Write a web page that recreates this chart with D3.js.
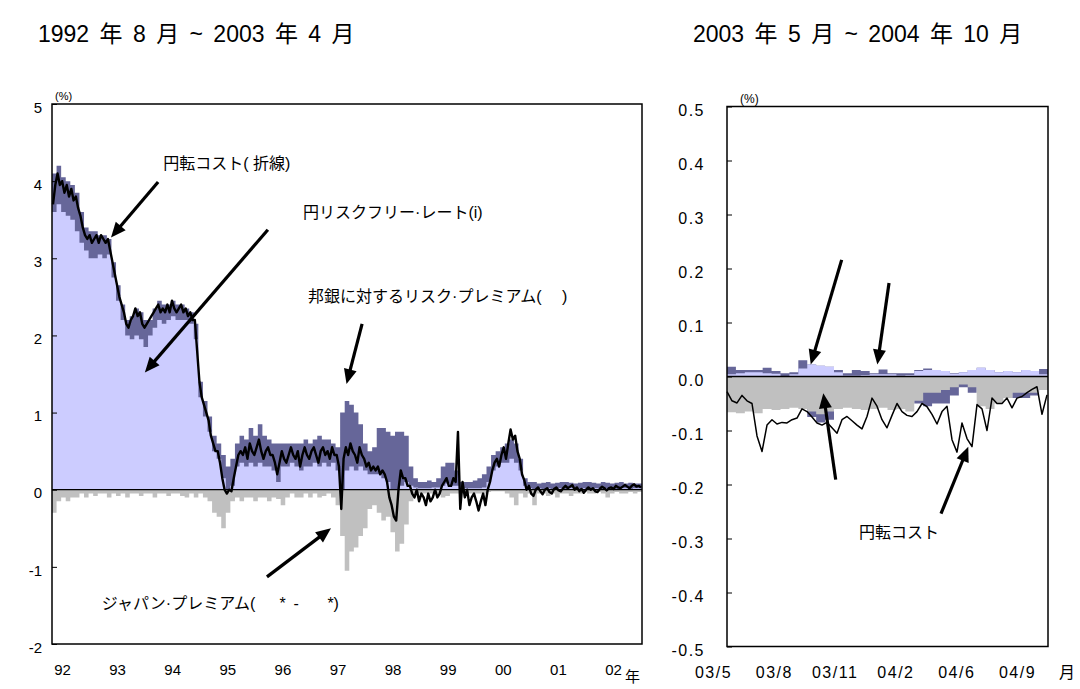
<!DOCTYPE html>
<html>
<head>
<meta charset="utf-8">
<script src="https://cdnjs.cloudflare.com/ajax/libs/d3/7.8.5/d3.min.js"></script>
<style>
  body { margin: 0; background: #fff; }
  svg text { font-family: 'Liberation Sans', Arial, 'Noto Sans CJK JP', sans-serif; fill: #000; white-space: pre; }
</style>
</head>
<body>
<svg id="chart" width="1080" height="689"></svg>
<script>
// ---- left panel: 1992/8 .. 2003/4 ----
// yen conversion cost, half-monthly
const yenCost = [
    3.7, 3.95, 4.1, 3.95, 4.0, 3.85, 3.95, 3.8, 3.9, 3.75,
    3.8, 3.65, 3.55, 3.4, 3.3, 3.25, 3.3, 3.2, 3.25, 3.3,
    3.2, 3.3, 3.25, 3.2, 3.25, 3.1, 2.95, 2.8, 2.65, 2.5,
    2.4, 2.3, 2.15, 2.1, 2.2, 2.25, 2.35, 2.25, 2.3, 2.15,
    2.1, 2.15, 2.2, 2.25, 2.3, 2.35, 2.4, 2.3, 2.35, 2.3,
    2.4, 2.3, 2.45, 2.35, 2.3, 2.35, 2.4, 2.3, 2.35, 2.25,
    2.3, 2.2, 2.2, 1.8, 1.4, 1.2, 1.1, 1.0, 0.9, 0.7,
    0.6, 0.5, 0.5, 0.35, 0.15, 0.0, -0.05, 0.0, -0.02, 0.15,
    0.3, 0.45, 0.5, 0.45, 0.55, 0.4, 0.6, 0.5, 0.45, 0.55,
    0.65, 0.5, 0.4, 0.5, 0.55, 0.45, 0.45, 0.35, 0.2, 0.35,
    0.5, 0.4, 0.35, 0.45, 0.55, 0.45, 0.4, 0.5, 0.3, 0.45,
    0.55, 0.45, 0.4, 0.5, 0.55, 0.45, 0.35, 0.5, 0.55, 0.45,
    0.5, 0.4, 0.55, 0.45, 0.45, 0.3, -0.25, 0.4, 0.55, 0.45,
    0.6, 0.5, 0.45, 0.35, 0.55, 0.45, 0.4, 0.3, 0.35, 0.25,
    0.3, 0.25, 0.3, 0.2, 0.25, 0.2, 0.1, -0.1, -0.2, -0.35,
    -0.4, 0.0, 0.25, 0.15, 0.15, 0.05, 0.05, -0.05, -0.1, 0.0,
    -0.15, -0.05, -0.1, -0.2, -0.05, -0.15, -0.1, 0.0, -0.1, -0.05,
    0.05, 0.1, 0.15, 0.05, 0.05, 0.15, 0.1, 0.75, -0.25, 0.1,
    -0.1, 0.0, -0.2, -0.1, -0.05, -0.15, -0.27, -0.15, -0.05, -0.2,
    0.0, 0.1, 0.25, 0.35, 0.4, 0.3, 0.45, 0.55, 0.4, 0.6,
    0.78, 0.65, 0.7, 0.5, 0.4, 0.2, 0.12, 0.0, 0.05, -0.05,
    -0.08, 0.0, 0.03, -0.02, -0.06, 0.0, 0.02, -0.03, -0.05, 0.01,
    0.03, -0.01, -0.02, 0.02, 0.05, 0.02, 0.04, 0.06, 0.0, 0.03,
    -0.02, 0.01, -0.04, 0.0, 0.03, 0.0, 0.02, -0.02, -0.03, 0.01,
    0.04, 0.02, -0.01, 0.02, 0.03, 0.01, 0.05, 0.03, 0.02, 0.04,
    0.06, 0.04, 0.02, 0.05, 0.07, 0.04, 0.05, 0.03
];
// monthly
const riskFree = [
    3.6, 3.7, 3.6, 3.55, 3.5, 3.35, 3.2, 3.1, 3.0, 3.0,
    3.05, 3.0, 3.05, 2.75, 2.45, 2.2, 2.0, 1.95, 2.0, 1.95,
    1.85, 2.0, 2.1, 2.2, 2.15, 2.2, 2.25, 2.2, 2.2, 2.2,
    2.15, 1.95, 1.2, 0.95, 0.75, 0.5, 0.4, 0.15, 0.0, 0.05,
    0.3, 0.35, 0.3, 0.35, 0.3, 0.35, 0.3, 0.3, 0.25, 0.1,
    0.3, 0.3, 0.35, 0.3, 0.25, 0.3, 0.3, 0.35, 0.3, 0.35,
    0.3, 0.35, 0.25, 0.0, 0.25, 0.3, 0.25, 0.3, 0.25, 0.2,
    0.2, 0.2, 0.15, 0.1, 0.0, 0.0, 0.05, 0.1, 0.05, 0.03,
    0.02, 0.02, 0.02, 0.03, 0.03, 0.05, 0.08, 0.05, 0.05, 0.03,
    0.02, 0.02, 0.02, 0.02, 0.03, 0.1, 0.25, 0.3, 0.35, 0.35,
    0.4, 0.35, 0.25, 0.05, 0.02, 0.01, 0.02, 0.01, 0.02, 0.01,
    0.02, 0.02, 0.01, 0.02, 0.02, 0.01, 0.02, 0.01, 0.02, 0.02,
    0.01, 0.02, 0.02, 0.01, 0.02, 0.02, 0.01, 0.02, 0.02
];
// risk-free + bank risk premium (top of the dark band)
const withPremium = [
    4.1, 4.2, 4.05, 4.0, 3.95, 3.85, 3.6, 3.4, 3.35, 3.35,
    3.3, 3.3, 3.25, 2.95, 2.65, 2.4, 2.2, 2.25, 2.35, 2.3,
    2.2, 2.2, 2.35, 2.45, 2.4, 2.4, 2.45, 2.4, 2.4, 2.35,
    2.3, 2.15, 1.4, 1.15, 0.95, 0.7, 0.6, 0.45, 0.3, 0.4,
    0.6, 0.7, 0.65, 0.8, 0.7, 0.85, 0.7, 0.65, 0.6, 0.6,
    0.6, 0.6, 0.6, 0.6, 0.6, 0.65, 0.6, 0.65, 0.7, 0.65,
    0.65, 0.6, 0.55, 1.0, 1.15, 1.1, 1.0, 0.85, 0.6, 0.5,
    0.55, 0.8, 0.8, 0.75, 0.7, 0.75, 0.75, 0.7, 0.3, 0.15,
    0.1, 0.1, 0.12, 0.1, 0.15, 0.3, 0.35, 0.35, 0.25, 0.1,
    0.1, 0.1, 0.12, 0.15, 0.2, 0.3, 0.45, 0.5, 0.55, 0.6,
    0.65, 0.6, 0.4, 0.15, 0.1, 0.1, 0.08, 0.09, 0.1, 0.08,
    0.09, 0.1, 0.1, 0.09, 0.08, 0.09, 0.1, 0.1, 0.09, 0.08,
    0.1, 0.09, 0.08, 0.09, 0.1, 0.08, 0.09, 0.08, 0.08
];
const japanPremium = [
    -0.3, -0.15, -0.1, -0.15, -0.1, -0.1, -0.05, -0.1, -0.05, -0.08,
    -0.05, -0.05, -0.1, -0.05, -0.08, -0.05, -0.1, -0.05, -0.05, -0.08,
    -0.05, -0.05, -0.1, -0.05, -0.05, -0.08, -0.05, -0.05, -0.08, -0.1,
    -0.05, -0.1, -0.05, -0.1, -0.15, -0.3, -0.35, -0.5, -0.3, -0.15,
    -0.1, -0.15, -0.1, -0.1, -0.15, -0.1, -0.1, -0.15, -0.1, -0.12,
    -0.2, -0.1, -0.05, -0.1, -0.1, -0.05, -0.1, -0.05, -0.1, -0.08,
    -0.05, -0.1, -0.2, -0.6, -1.05, -0.8, -0.75, -0.6, -0.5, -0.25,
    -0.2, -0.3, -0.4, -0.35, -0.55, -0.8, -0.7, -0.45, -0.15, -0.05,
    -0.05, -0.05, -0.05, -0.05, -0.05, -0.1, -0.08, -0.05, -0.05, -0.05,
    -0.05, -0.05, -0.05, -0.05, -0.05, -0.03, -0.02, -0.02, -0.02, -0.05,
    -0.1, -0.2, -0.05, -0.1, -0.05, -0.2, -0.05, -0.05, -0.08, -0.05,
    -0.1, -0.05, -0.05, -0.08, -0.05, -0.05, -0.03, -0.05, -0.05, -0.03,
    -0.05, -0.1, -0.05, -0.03, -0.05, -0.05, -0.03, -0.05, -0.03
];
const yearLabels = ['92', '93', '94', '95', '96', '97', '98', '99', '00', '01', '02'];
const leftTicks = [-2, -1, 0, 1, 2, 3, 4, 5];

// ---- right panel: 2003/5 .. 2004/10 ----
// yen conversion cost, roughly every 5 days
const rYenCost = [
    -0.028, -0.045, -0.049, -0.035, -0.045, -0.05, -0.11, -0.139, -0.09, -0.08,
    -0.088, -0.085, -0.086, -0.08, -0.077, -0.06, -0.065, -0.075, -0.086, -0.09,
    -0.085, -0.095, -0.105, -0.08, -0.074, -0.082, -0.09, -0.097, -0.074, -0.04,
    -0.055, -0.08, -0.095, -0.072, -0.05, -0.065, -0.072, -0.074, -0.065, -0.05,
    -0.056, -0.07, -0.088, -0.065, -0.055, -0.117, -0.14, -0.086, -0.115, -0.13,
    -0.052, -0.06, -0.1, -0.04, -0.05, -0.05, -0.04, -0.058, -0.04, -0.037,
    -0.03, -0.024, -0.019, -0.07, -0.034
];
// half-monthly
const rRiskFree = [
    0.004, 0.006, 0.008, 0.008, 0.006, 0.005, 0.0, 0.004, 0.015, 0.022,
    0.02, 0.018, 0.008, 0.002, 0.002, 0.003, 0.004, 0.004, 0.004, 0.002,
    0.003, 0.01, 0.012, 0.012, 0.01, 0.005, 0.008, 0.012, 0.016, 0.012,
    0.008, 0.01, 0.008, 0.012, 0.01, 0.004
];
const rWithPremium = [
    0.018, 0.012, 0.012, 0.012, 0.016, 0.01, 0.006, 0.008, 0.03, 0.022,
    0.02, 0.018, 0.012, 0.006, 0.012, 0.01, 0.006, 0.013, 0.006, 0.006,
    0.006, 0.012, 0.015, 0.012, 0.01, 0.006, 0.008, 0.012, 0.016, 0.012,
    0.008, 0.01, 0.008, 0.012, 0.01, 0.014
];
const rPremiumNeg = [
    0, 0, 0, 0, 0, 0, 0, 0, 0, -0.075,
    -0.085, -0.08, 0, 0, 0, 0, 0, 0, 0, 0,
    0, -0.05, -0.055, -0.05, -0.05, -0.035, -0.02, -0.03, 0, 0,
    0, 0, -0.04, -0.04, -0.035, 0
];
const rJapanPremium = [
    -0.066, -0.068, -0.065, -0.068, -0.06, -0.062, -0.06, -0.058, -0.06, -0.065,
    -0.07, -0.065, -0.06, -0.058, -0.06, -0.062, -0.06, -0.058, -0.062, -0.06,
    -0.065, -0.045, -0.03, -0.03, -0.025, -0.02, -0.015, -0.02, -0.055, -0.06,
    -0.05, -0.04, -0.03, -0.03, -0.03, -0.025
];
const monthLabels = ['03/5', '03/8', '03/11', '04/2', '04/6', '04/9'];
const rightTicks = [-0.5, -0.4, -0.3, -0.2, -0.1, 0, 0.1, 0.2, 0.3, 0.4, 0.5];

// annotations, in data units [month index, value]
const leftNotes = [
    {text: '円転コスト( 折線)', at: [24.3, 4.23], from: [23.2, 3.99], to: [12.9, 3.27]},
    {text: '円リスクフリー·レート(i)', at: [54.9, 3.59], from: [47.2, 3.37], to: [20.3, 1.52]},
    {text: '邦銀に対するリスク·プレミアム(\u2003 )', at: [56.0, 2.5], from: [67.8, 2.15], to: [64.4, 1.37]},
    {text: 'ジャパン·プレミアム(\u2003\u2002*\u2002-\u2003\u2002 *)', at: [10.9, -1.47], from: [47.0, -1.13], to: [61.0, -0.5]}
];
const rightArrows = [
    {from: [12.86, 0.216], to: [9.39, 0.022]},
    {from: [18.17, 0.173], to: [16.86, 0.022]},
    {from: [12.19, -0.191], to: [10.8, -0.031]},
    {from: [24.0, -0.254], to: [27.06, -0.13]}
];
const rightNote = {text: '円転コスト', at: [14.8, -0.289]};

const colors = {riskFree: '#ccccff', premium: '#666699', japan: '#c0c0c0', line: '#000'};

const svg = d3.select('#chart');

// step data: one block per period
const steps = (arr) => arr.map((v, i) => [i, v]).concat([[arr.length, arr[arr.length - 1]]]);

function drawArrow(g, p0, p1, w) {
    const dx = p1[0] - p0[0], dy = p1[1] - p0[1];
    const len = Math.hypot(dx, dy), ux = dx / len, uy = dy / len;
    const head = 15, half = 6.5;
    const bx = p1[0] - ux * head, by = p1[1] - uy * head;
    g.append('path')
        .attr('d', d3.line()([p0, [bx + ux * 2, by + uy * 2]]))
        .attr('stroke', '#000').attr('stroke-width', w).attr('fill', 'none');
    g.append('path')
        .attr('d', d3.line()([p1, [bx - uy * half, by + ux * half], [bx + uy * half, by - ux * half]]) + 'Z')
        .attr('fill', '#000');
}

function panel(opt) {
    const x = d3.scaleLinear().domain([0, opt.riskFree.length]).range(opt.xRange);
    const xLine = d3.scaleLinear().domain([0, opt.cost.length - 1]).range(opt.lineRange);
    const y = d3.scaleLinear().domain(opt.yDomain).range(opt.yRange);
    const g = svg.append('g');

    const area = d3.area()
        .curve(d3.curveStepAfter)
        .x((d) => x(d[0]))
        .y0(y(0))
        .y1((d) => y(d[1]));

    if (opt.premiumNeg) {
        g.append('path').attr('d', area(steps(opt.premiumNeg))).attr('fill', colors.premium);
    }
    g.append('path').attr('d', area(steps(opt.japan))).attr('fill', colors.japan);
    g.append('path').attr('d', area(steps(opt.withPremium))).attr('fill', colors.premium);
    g.append('path').attr('d', area(steps(opt.riskFree))).attr('fill', colors.riskFree);

    g.append('line')
        .attr('x1', opt.xRange[0]).attr('x2', opt.xRange[1])
        .attr('y1', y(0)).attr('y2', y(0))
        .attr('stroke', '#000').attr('stroke-width', 1.3);

    g.append('path')
        .attr('d', d3.line().x((d, i) => xLine(i)).y((d) => y(d))(opt.cost))
        .attr('fill', 'none').attr('stroke', colors.line)
        .attr('stroke-width', opt.lineWidth).attr('stroke-linejoin', 'round');

    g.append('rect')
        .attr('x', opt.xRange[0]).attr('y', opt.yRange[1])
        .attr('width', opt.xRange[1] - opt.xRange[0]).attr('height', opt.yRange[0] - opt.yRange[1])
        .attr('fill', 'none').attr('stroke', '#000').attr('stroke-width', 1.5);

    const yAxis = g.append('g')
        .attr('transform', 'translate(' + opt.xRange[0] + ',0)')
        .call(d3.axisLeft(y).tickValues(opt.ticks).tickSizeInner(-5).tickSizeOuter(0)
            .tickPadding(opt.tickPad).tickFormat(opt.fmt));
    yAxis.select('.domain').remove();
    yAxis.selectAll('line').attr('stroke', '#000');
    yAxis.selectAll('text')
        .attr('font-size', opt.yFont).attr('dy', '0.55em')
        .attr('letter-spacing', opt.spacing)
        .style('font-family', "'Liberation Sans', Arial, sans-serif");

    const band = d3.scalePoint().domain(opt.labels).range(opt.labelRange);
    const xAxis = g.append('g')
        .attr('transform', 'translate(0,' + opt.yRange[0] + ')')
        .call(d3.axisBottom(band).tickSize(0).tickPadding(20));
    xAxis.select('.domain').remove();
    xAxis.selectAll('text')
        .attr('font-size', opt.xFont).attr('letter-spacing', opt.spacing)
        .style('font-family', "'Liberation Sans', Arial, sans-serif");

    return {g, x, y};
}

const left = panel({
    cost: yenCost, riskFree: riskFree, withPremium: withPremium, japan: japanPremium,
    xRange: [52, 642], lineRange: [53, 641], yDomain: [-2, 5], yRange: [644, 104],
    ticks: leftTicks, fmt: (d) => String(d), tickPad: 10, spacing: 0, xFont: 15, yFont: 15,
    labels: yearLabels, labelRange: [62, 613], lineWidth: 2.4
});
const right = panel({
    cost: rYenCost, riskFree: rRiskFree, withPremium: rWithPremium, japan: rJapanPremium,
    premiumNeg: rPremiumNeg,
    xRange: [727, 1048], lineRange: [727, 1047], yDomain: [-0.5, 0.5], yRange: [646.5, 106.5],
    ticks: rightTicks, fmt: (d) => d.toFixed(1), tickPad: 22, spacing: 1.5, xFont: 16, yFont: 16,
    labels: monthLabels, labelRange: [713, 1017], lineWidth: 1.5
});

// titles and units
svg.append('text').attr('x', 38).attr('y', 42).attr('font-size', 23).attr('word-spacing', 4)
    .text('1992 年 8 月 ~ 2003 年 4 月');
svg.append('text').attr('x', 693).attr('y', 42).attr('font-size', 23).attr('word-spacing', 4)
    .text('2003 年 5 月 ~ 2004 年 10 月');
svg.append('text').attr('x', 55).attr('y', 100).attr('font-size', 11).text('(%)');
svg.append('text').attr('x', 740).attr('y', 103).attr('font-size', 12).text('(%)');
svg.append('text').attr('x', 625).attr('y', 682).attr('font-size', 15).text('年');
svg.append('text').attr('x', 1059).attr('y', 678).attr('font-size', 16).text('月');

// left annotations
leftNotes.forEach((n) => {
    left.g.append('text')
        .attr('x', left.x(n.at[0])).attr('y', left.y(n.at[1]))
        .attr('dominant-baseline', 'central').attr('font-size', 16)
        .text(n.text);
    drawArrow(left.g, [left.x(n.from[0]), left.y(n.from[1])], [left.x(n.to[0]), left.y(n.to[1])], 3.2);
});

// right annotations
rightArrows.forEach((a) => {
    drawArrow(right.g, [right.x(a.from[0]), right.y(a.from[1])], [right.x(a.to[0]), right.y(a.to[1])], 3.2);
});
right.g.append('text')
    .attr('x', right.x(rightNote.at[0])).attr('y', right.y(rightNote.at[1]))
    .attr('dominant-baseline', 'central').attr('font-size', 16)
    .text(rightNote.text);
</script>
</body>
</html>
